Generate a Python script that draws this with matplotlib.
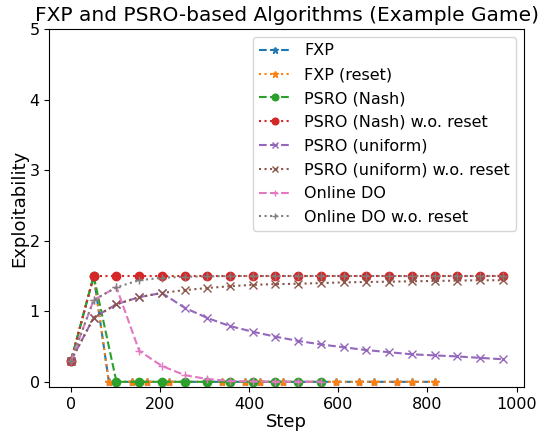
import matplotlib
matplotlib.use("Agg")
import matplotlib.pyplot as plt

steps_fxp = [0, 51, 85, 136, 170, 221, 255, 306, 340, 391, 425, 476, 510, 561,
             595, 646, 680, 731, 765, 816]
steps_long = [0, 51, 102, 153, 204, 255, 306, 357, 408, 459, 510, 561, 612, 663,
              714, 765, 816, 867, 918, 969]
steps_short = [0, 51, 102, 153, 204, 255, 306, 357, 408, 459, 510, 561]

fxp = [0.3, 1.5, 0, 0, 0, 0, 0, 0, 0, 0, 0, 0, 0, 0, 0, 0, 0, 0, 0, 0]
fxp_reset = [0.3, 1.5, 0, 0, 0, 0, 0, 0, 0, 0, 0, 0, 0, 0, 0, 0, 0, 0, 0, 0]
psro_nash = [0.3, 1.5, 0, 0, 0, 0, 0, 0, 0, 0, 0, 0]
psro_nash_nr = [0.3, 1.5, 1.5, 1.5, 1.5, 1.5, 1.5, 1.5, 1.5, 1.5, 1.5, 1.5, 1.5,
                1.5, 1.5, 1.5, 1.5, 1.5, 1.5, 1.5]
psro_unif = [0.3, 0.91, 1.10, 1.20, 1.26, 1.05, 0.905, 0.79, 0.71, 0.64, 0.58,
             0.53, 0.49, 0.45, 0.42, 0.39, 0.375, 0.36, 0.34, 0.32]
psro_unif_nr = [0.3, 0.91, 1.10, 1.20, 1.26, 1.30, 1.33, 1.355, 1.375, 1.385,
                1.39, 1.40, 1.41, 1.415, 1.42, 1.425, 1.43, 1.435, 1.44, 1.44]
online_do = [0.3, 1.16, 1.34, 0.44, 0.225, 0.095, 0.04, 0.012, 0.005, 0.003,
             0.002, 0.001]
online_do_nr = [0.3, 1.16, 1.34, 1.44, 1.475, 1.49, 1.495, 1.5, 1.5, 1.5, 1.5,
                1.5, 1.5, 1.5, 1.5, 1.5, 1.5, 1.5, 1.5, 1.5]

fig = plt.figure(figsize=(5.49, 4.34), dpi=100)
ax = fig.add_axes([0.09, 0.108, 0.865, 0.825])

ax.plot(steps_fxp, fxp, '--', marker='*', label='FXP')
ax.plot(steps_fxp, fxp_reset, ':', marker='*', label='FXP (reset)')
ax.plot(steps_short, psro_nash, '--', marker='o', label='PSRO (Nash)')
ax.plot(steps_long, psro_nash_nr, ':', marker='o', label='PSRO (Nash) w.o. reset')
ax.plot(steps_long, psro_unif, '--', marker='x', label='PSRO (uniform)')
ax.plot(steps_long, psro_unif_nr, ':', marker='x', label='PSRO (uniform) w.o. reset')
ax.plot(steps_short, online_do, '--', marker='+', label='Online DO')
ax.plot(steps_long, online_do_nr, ':', marker='+', label='Online DO w.o. reset')

ax.set_ylim(top=5)
ax.set_xticks([0, 200, 400, 600, 800, 1000])
ax.tick_params(labelsize=11.5)
ax.set_xlabel('Step', fontsize=13, labelpad=0.5)
ax.set_ylabel('Exploitability', fontsize=13, labelpad=1)
ax.set_title('FXP and PSRO-based Algorithms (Example Game)', fontsize=14.5)
ax.legend(loc='upper right', fontsize=11.5, markerscale=0.8, labelspacing=0.55)

fig.savefig('out.png', dpi=100)
